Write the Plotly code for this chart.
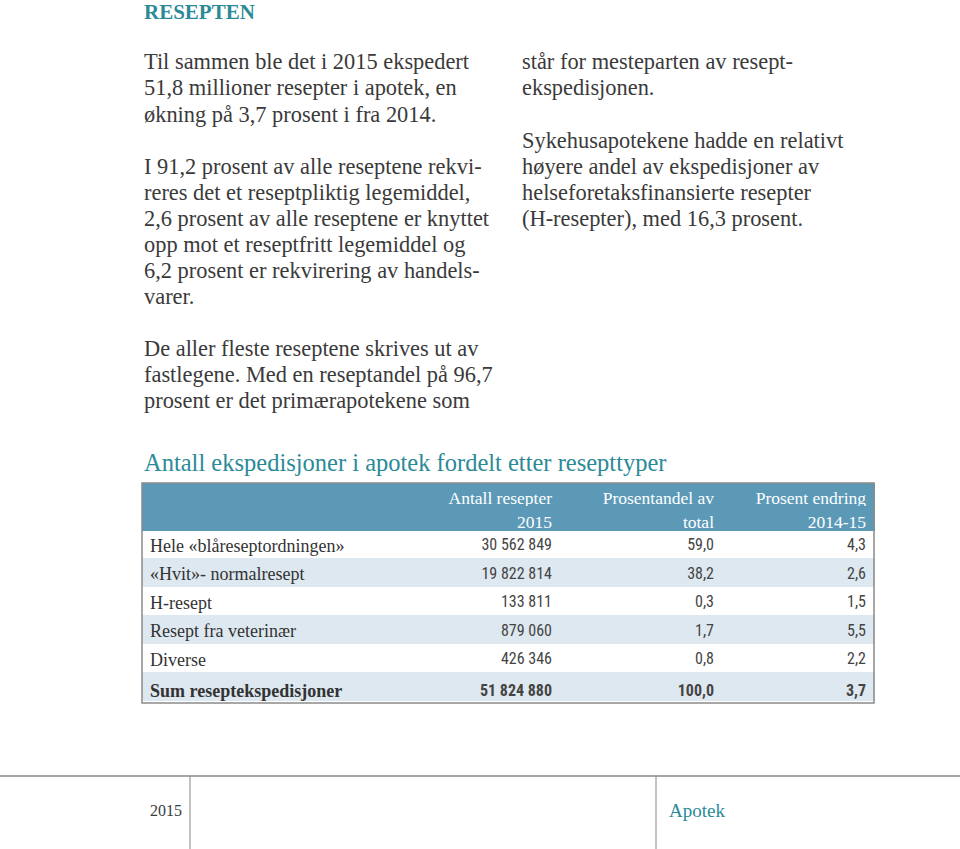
import plotly.graph_objects as go

W, H = 960, 849

# ---------------- data ----------------
categories = ["Hele «blåreseptordningen»", "«Hvit»- normalresept", "H-resept",
              "Resept fra veterinær", "Diverse", "Sum reseptekspedisjoner"]
antall_2015 = [30562849, 19822814, 133811, 879060, 426346, 51824880]
andel_total = [59.0, 38.2, 0.3, 1.7, 0.8, 100.0]
endring_2014_15 = [4.3, 2.6, 1.5, 5.5, 2.2, 3.7]
header_labels = [["", ""], ["Antall resepter", "2015"], ["Prosentandel av", "total"],
                 ["Prosent endring", "2014-15"]]

section_title = "RESEPTEN"
table_title = "Antall ekspedisjoner i apotek fordelt etter resepttyper"
left_lines = [
    (62, "Til sammen ble det i 2015 ekspedert"),
    (88, "51,8 millioner resepter i apotek, en"),
    (114, "økning på 3,7 prosent i fra 2014."),
    (166, "I 91,2 prosent av alle reseptene rekvi-"),
    (192, "reres det et reseptpliktig legemiddel,"),
    (218, "2,6 prosent av alle reseptene er knyttet"),
    (244, "opp mot et reseptfritt legemiddel og"),
    (270, "6,2 prosent er rekvirering av handels-"),
    (296, "varer."),
    (348, "De aller fleste reseptene skrives ut av"),
    (374, "fastlegene. Med en reseptandel på 96,7"),
    (400, "prosent er det primærapotekene som"),
]
right_lines = [
    (62, "står for mesteparten av resept-"),
    (88, "ekspedisjonen."),
    (140, "Sykehusapotekene hadde en relativt"),
    (166, "høyere andel av ekspedisjoner av"),
    (192, "helseforetaksfinansierte resepter"),
    (218, "(H-resepter), med 16,3 prosent."),
]
footer_year = "2015"
footer_name = "Apotek"

# ---------------- styling ----------------
TEAL = "#2b8a97"
TEXT = "#3a3a3a"
HEAD_BG = "#5b99b7"
STRIPE = "#dde8f0"
SERIF = "Liberation Serif, DejaVu Serif, serif"
NARROW = "Liberation Sans Narrow, Roboto Condensed, Roboto, sans-serif"


def fx(px):
    return px / W


def fy(py):
    return 1 - py / H


def fmt_int(v):
    return f"{v:,}".replace(",", " ")


def fmt_dec(v):
    return f"{v:.1f}".replace(".", ",")


n = len(categories)
col0 = [c if i < n - 1 else f"<b>{c}</b>" for i, c in enumerate(categories)]
col1 = [fmt_int(v) if i < n - 1 else f"<b>{fmt_int(v)}</b>" for i, v in enumerate(antall_2015)]
col2 = [fmt_dec(v) if i < n - 1 else f"<b>{fmt_dec(v)}</b>" for i, v in enumerate(andel_total)]
col3 = [fmt_dec(v) if i < n - 1 else f"<b>{fmt_dec(v)}</b>" for i, v in enumerate(endring_2014_15)]

row_fill = ["white" if i % 2 == 0 else STRIPE for i in range(n)]

tbl_x0, tbl_x1 = 142, 874
tbl_y0, tbl_y1 = 483, 702

fig = go.Figure()
fig.add_trace(go.Table(
    domain=dict(x=[fx(tbl_x0), fx(tbl_x1)], y=[fy(tbl_y1), fy(tbl_y0)]),
    columnwidth=[258, 160, 162, 152],
    header=dict(
        values=header_labels,
        fill_color=HEAD_BG,
        line=dict(color=HEAD_BG, width=1),
        align=["left", "right", "right", "right"],
        font=dict(family=SERIF, size=17.5, color="white"),
        height=23.5,
    ),
    cells=dict(
        values=[col0, col1, col2, col3],
        fill_color=[row_fill] * 4,
        line=dict(color=[row_fill] * 4, width=1),
        align=["left", "right", "right", "right"],
        font=dict(family=[SERIF, NARROW, NARROW, NARROW], size=[18, 16, 16, 16],
                  color=["#333", "#444", "#444", "#444"]),
        height=28.5,
    ),
))

annotations = []
annotations.append(dict(x=fx(142), y=fy(12), text=f"<b>{section_title}</b>", xanchor="left",
                        yanchor="middle", showarrow=False,
                        font=dict(family=SERIF, size=21, color=TEAL)))
for yy, t in left_lines:
    annotations.append(dict(x=fx(142), y=fy(yy), text=t, xanchor="left", yanchor="middle",
                            showarrow=False, font=dict(family=SERIF, size=22.4, color=TEXT)))
for yy, t in right_lines:
    annotations.append(dict(x=fx(520), y=fy(yy), text=t, xanchor="left", yanchor="middle",
                            showarrow=False, font=dict(family=SERIF, size=22.4, color=TEXT)))
annotations.append(dict(x=fx(142), y=fy(462), text=table_title, xanchor="left", yanchor="middle",
                        showarrow=False, font=dict(family=SERIF, size=24.5, color=TEAL)))
annotations.append(dict(x=fx(184), y=fy(810), text=footer_year, xanchor="right", yanchor="middle",
                        showarrow=False, font=dict(family=SERIF, size=16, color=TEXT)))
annotations.append(dict(x=fx(667), y=fy(810), text=footer_name, xanchor="left", yanchor="middle",
                        showarrow=False, font=dict(family=SERIF, size=19, color=TEAL)))

shapes = [
    dict(type="rect", xref="paper", yref="paper", x0=fx(tbl_x0), x1=fx(tbl_x1),
         y0=fy(tbl_y1 + 1), y1=fy(tbl_y0), line=dict(color="#8a8a8a", width=1.5)),
    dict(type="line", xref="paper", yref="paper", x0=0, x1=1, y0=fy(776), y1=fy(776),
         line=dict(color="#888", width=1.5)),
    dict(type="line", xref="paper", yref="paper", x0=fx(190), x1=fx(190), y0=fy(776), y1=0,
         line=dict(color="#888", width=1)),
    dict(type="line", xref="paper", yref="paper", x0=fx(656), x1=fx(656), y0=fy(776), y1=0,
         line=dict(color="#888", width=1)),
]

fig.update_layout(
    width=W, height=H,
    margin=dict(l=0, r=0, t=0, b=0),
    paper_bgcolor="white", plot_bgcolor="white",
    annotations=annotations, shapes=shapes,
    showlegend=False,
)

fig.write_html("out.html", config={"displayModeBar": False},
               post_script="document.body.style.margin='0px';document.body.style.overflow='hidden';")
